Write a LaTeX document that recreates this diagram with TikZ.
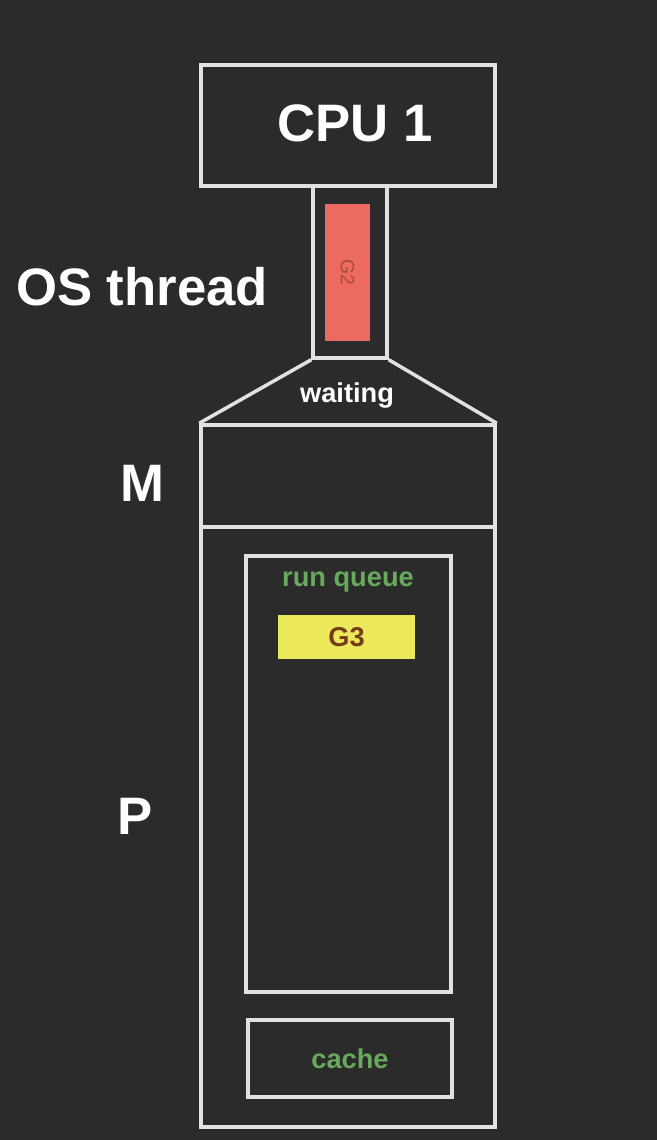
\documentclass[tikz,border=0pt]{standalone}
\usepackage{fontspec}
\setmainfont{Liberation Sans}
\definecolor{bg}{RGB}{43,43,43}
\definecolor{edge}{RGB}{225,225,225}
\definecolor{gred}{RGB}{236,106,98}
\definecolor{gyellow}{RGB}{236,232,92}
\definecolor{gbrown}{RGB}{115,60,25}
\definecolor{qgreen}{RGB}{104,170,92}
\begin{document}
\begin{tikzpicture}
[x=0.02cm,y=-0.02cm]
\tikzstyle{box}=[draw=edge,line width=2pt,inner sep=0]
\tikzstyle{big label}=[text=white,font=\fontsize{30}{30}\selectfont\bfseries]
\tikzstyle{small label}=[font=\fontsize{15.5}{15.5}\selectfont\bfseries]

\fill[bg](0,0)rectangle(657,1140);

\node(cpu)[box,minimum width=5.88cm,minimum height=2.42cm]at(348,125.5){};
\node(thread)[box,minimum width=1.48cm,minimum height=3.44cm]at(350,272){};
\node(g2)[fill=gred,minimum width=0.9cm,minimum height=2.74cm,inner sep=0]at(347.5,272.5){};
\node(m)[box,minimum width=5.88cm,minimum height=2.04cm]at(348,476){};
\node(p)[box,minimum width=5.88cm,minimum height=12cm]at(348,827){};
\node(queue)[box,minimum width=4.1cm,minimum height=8.72cm]at(348.5,774){};
\node(g3)[fill=gyellow,minimum width=2.74cm,minimum height=0.88cm,inner sep=0]at(346.5,637){};
\node(cache)[box,minimum width=4.08cm,minimum height=1.54cm]at(350,1058.5){};

\draw[edge,line width=2pt](thread.south west)--(m.north west);
\draw[edge,line width=2pt](thread.south east)--(m.north east);

\node[big label]at(355,123){CPU 1};
\node[big label]at(142,287){OS thread};
\node[big label]at(142,483){M};
\node[big label]at(135,816){P};
\node[small label,text=white]at(347,396){waiting};
\node[small label,text=qgreen]at(348,582){run queue};
\node[small label,text=gbrown]at(g3){G3};
\node[small label,text=qgreen]at(350,1059){cache};
\node[rotate=-90,text=gbrown!60!gred,font=\fontsize{11}{11}\selectfont]at(g2){G2};
\end{tikzpicture}
\end{document}
